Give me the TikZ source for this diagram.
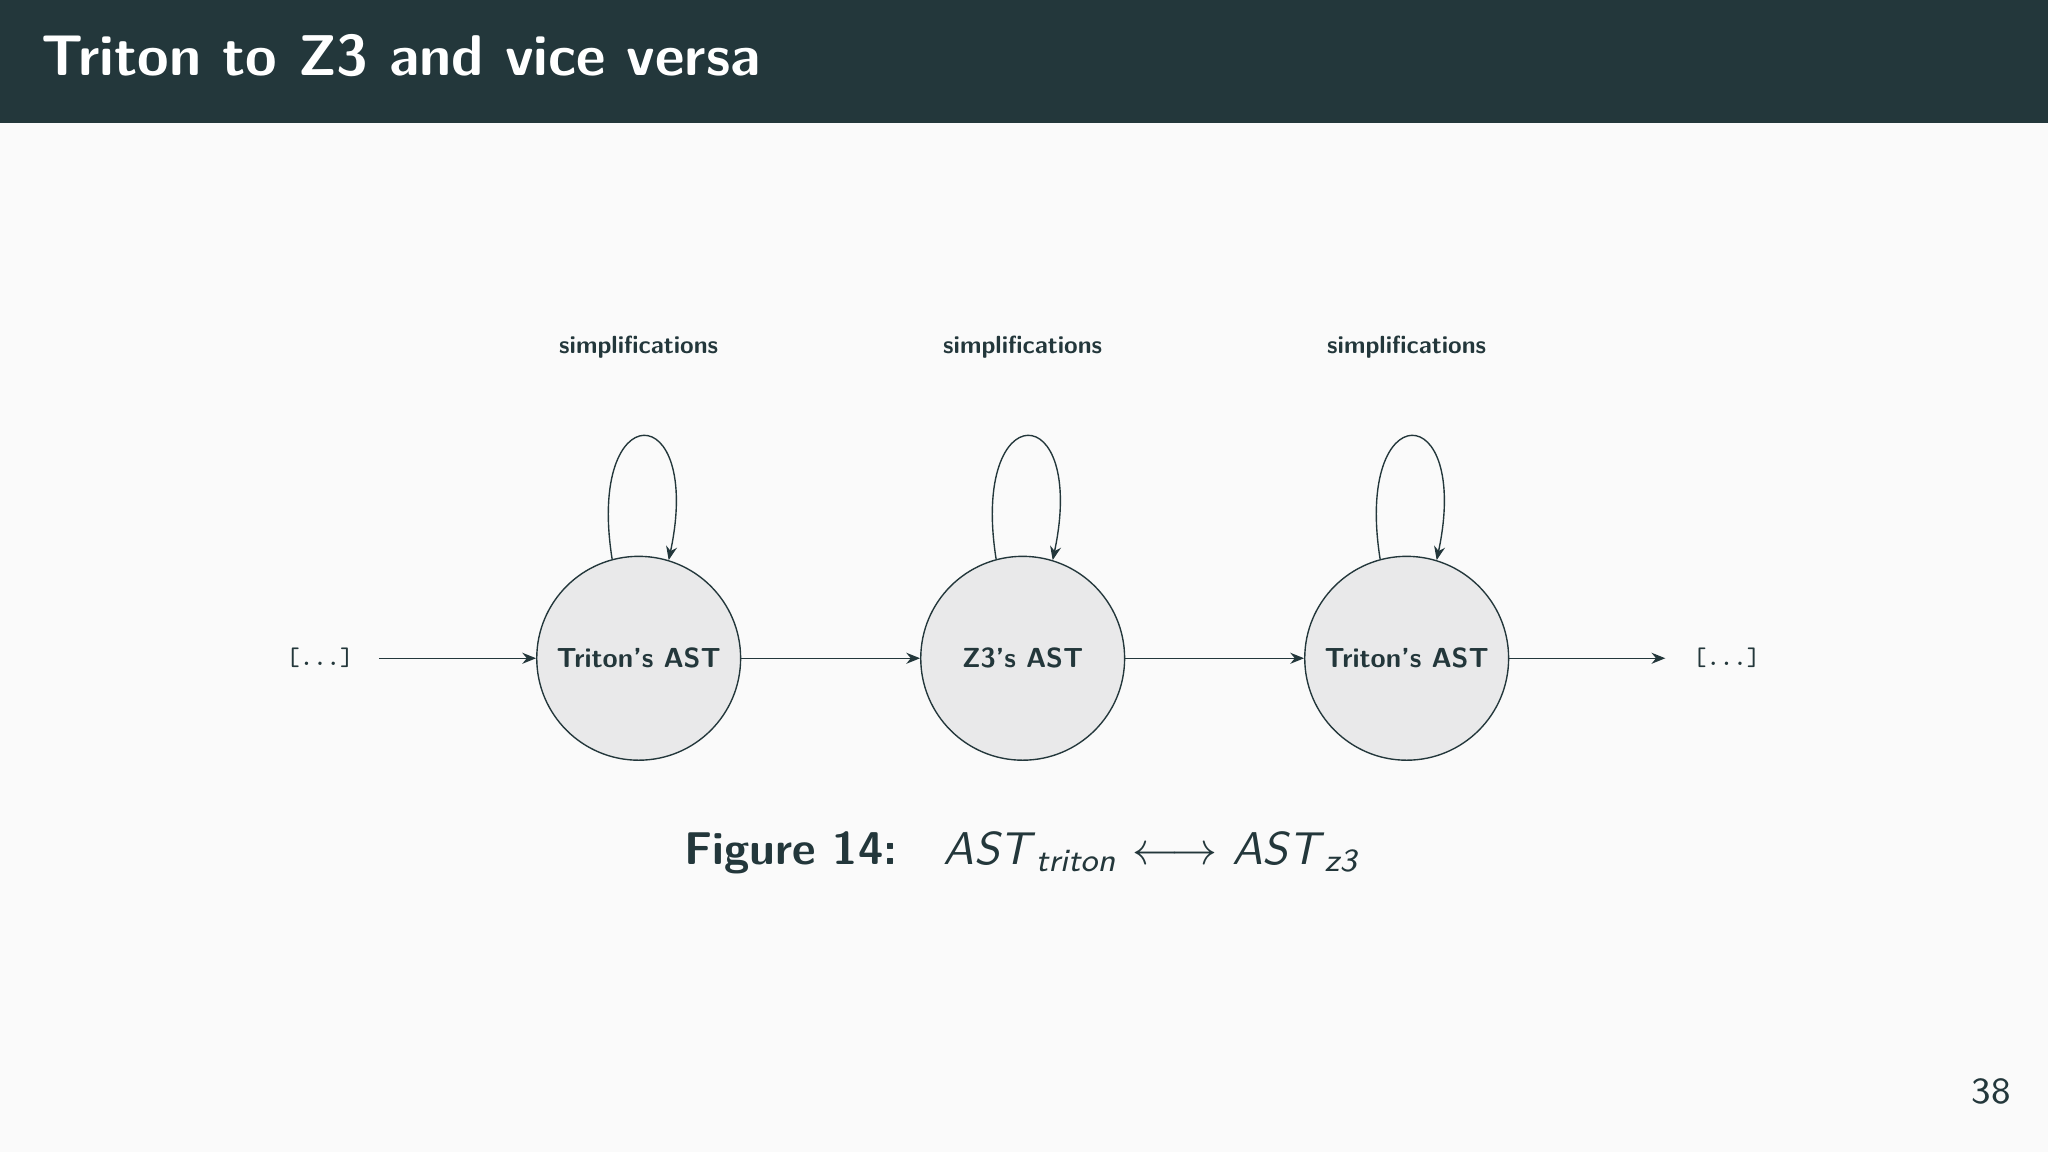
\documentclass[tikz,border=0pt]{standalone}
\usepackage{fontspec}
\usetikzlibrary{arrows.meta}
\definecolor{dark}{HTML}{23373B}
\definecolor{bg}{HTML}{FAFAFA}
\definecolor{nfill}{HTML}{E9E9EA}
\tikzset{
  st/.style={circle,draw=dark,fill=nfill,line width=0.3pt,minimum size=1.56cm,inner sep=0pt,font=\sffamily\fontsize{6}{7}\selectfont\bfseries,text=dark},
  con/.style={draw=dark,line width=0.3pt,-{Stealth[length=3pt,width=2.4pt]}},
  lab/.style={font=\sffamily\fontsize{5.4}{6}\selectfont\bfseries,text=dark},
  dots/.style={font=\ttfamily\fontsize{5.5}{6}\selectfont,text=dark}
}
\begin{document}
\begin{tikzpicture}[x=0.01cm,y=0.01cm]
\fill[bg] (0,0) rectangle (1568,882);
\useasboundingbox (0,0) rectangle (1568,882);
\fill[dark] (0,788) rectangle (1568,882);
\node[anchor=base west,inner sep=0pt,text=white,font=\sffamily\fontsize{12.5}{15}\selectfont\bfseries] (title) at (31,824) {Triton to Z3 and vice versa};
\node (t1) at (489,378) [st] {Triton’s AST};
\node (z) at (783,378) [st] {Z3’s AST};
\node (t2) at (1077,378) [st] {Triton’s AST};
\node[dots] (l) at (245,378) {[...]};
\node[dots] (r) at (1322,378) {[...]};
\coordinate (ls) at (290,378);
\coordinate (re) at (1275,378);
\draw[con] (ls) -- (t1);
\draw[con] (t1) -- (z);
\draw[con] (z) -- (t2);
\draw[con] (t2) -- (re);
\foreach \n in {t1,z,t2}{
  \draw[con] (\n.105) .. controls +(99:128) and +(78:128) .. (\n.73);
}
\node[lab] (s1) at (489,616) {simplifications};
\node[lab] (s2) at (783,616) {simplifications};
\node[lab] (s3) at (1077,616) {simplifications};
\node[anchor=base,text=dark,font=\sffamily\fontsize{10}{12}\selectfont] (cap) at (783,220)
 {\textbf{Figure 14:}\quad \textit{AST}\textsubscript{\textit{triton}} $\longleftrightarrow$ \textit{AST}\textsubscript{\textit{z3}}};
\node[anchor=base east,inner sep=0pt,text=dark,font=\sffamily\fontsize{8}{9}\selectfont] (pg) at (1540,37) {38};
\end{tikzpicture}
\end{document}
